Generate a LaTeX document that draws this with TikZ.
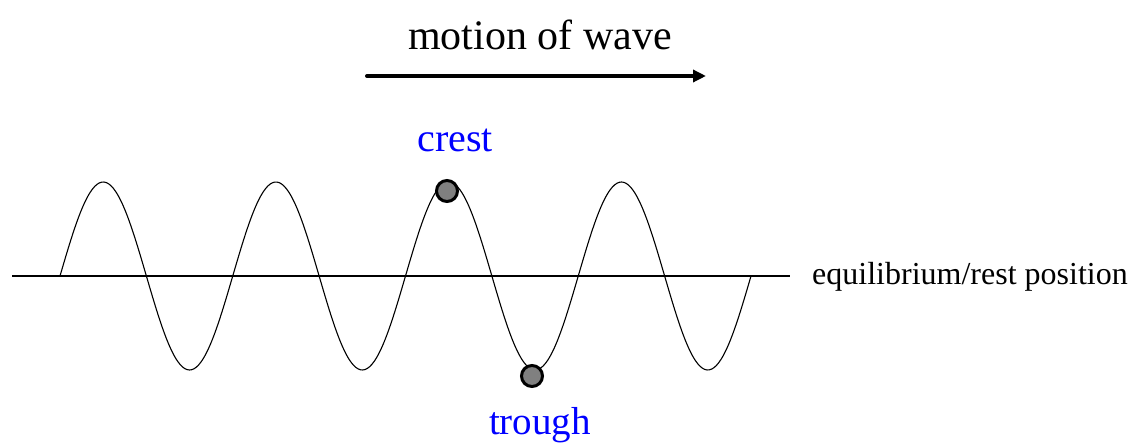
\documentclass[tikz,border=0pt]{standalone}
\usepackage{fontspec}
\setmainfont{Liberation Serif}
\usetikzlibrary{arrows.meta}
\begin{document}
\begin{tikzpicture}[x=1pt,y=-1pt,
  dot/.style={circle,draw=black,line width=3pt,fill=gray,minimum size=21pt,inner sep=0pt},
  bluelabel/.style={text=blue,anchor=base,inner sep=0pt},
  blacklabel/.style={text=black,inner sep=0pt}]
\useasboundingbox (0,0) rectangle (1137,446);
% title and arrow
\node[blacklabel,anchor=base] (title) at (540,50) {\fontsize{42}{50}\selectfont motion of wave};
\coordinate (arrA) at (367,76);
\coordinate (arrB) at (706,76);
\draw[line width=4pt,line cap=round,-{Triangle[length=13pt,width=12pt]}] (arrA) -- (arrB);
% equilibrium line
\coordinate (axA) at (12,276);
\coordinate (axB) at (790,276);
\draw[line width=2pt] (axA) -- (axB);
\node[blacklabel,anchor=base west] (eq) at (812,284) {\fontsize{32}{38}\selectfont equilibrium/rest position};
% wave
\draw[line width=1.1pt,domain=60:751,samples=300,smooth,variable=\t]
  plot (\t,{276-94*sin((\t-60)/172.75*360)});
% crest and trough
\node[dot] (crestdot) at (447,191) {};
\node[dot] (troughdot) at (532,376) {};
\node[bluelabel] (crest) at (455,152) {\fontsize{40}{48}\selectfont crest};
\node[bluelabel] (trough) at (540,434) {\fontsize{39}{47}\selectfont trough};
\end{tikzpicture}
\end{document}
